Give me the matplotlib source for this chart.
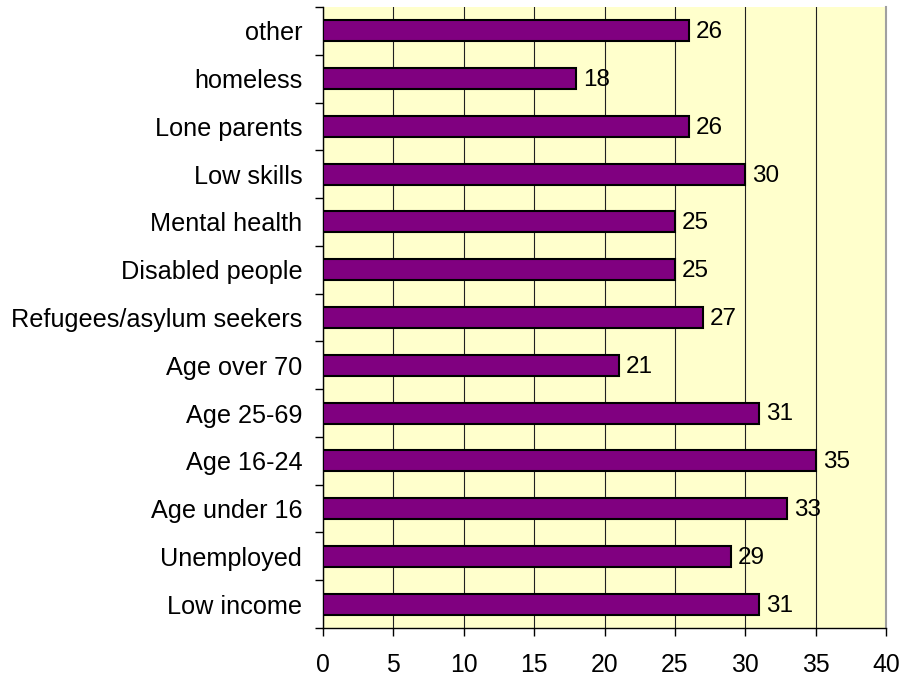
import matplotlib
matplotlib.use("Agg")
import matplotlib.pyplot as plt
import numpy as np

categories = ["Low income", "Unemployed", "Age under 16", "Age 16-24", "Age 25-69",
              "Age over 70", "Refugees/asylum seekers", "Disabled people",
              "Mental health", "Low skills", "Lone parents", "homeless", "other"]
values = [31, 29, 33, 35, 31, 21, 27, 25, 25, 30, 26, 18, 26]
xticks = [0, 5, 10, 15, 20, 25, 30, 35, 40]

plt.rcParams['font.family'] = ['Liberation Sans', 'DejaVu Sans']

fig = plt.figure(figsize=(9.14, 6.77), dpi=100)
ax = fig.add_axes([323/914, 1 - 628/677, (886 - 323)/914, (628 - 7)/677])
ax.set_facecolor('#FFFFCC')

y = np.arange(len(categories))
ax.barh(y, values, height=0.44, color='#800080', edgecolor='black', linewidth=1.5, zorder=3)

ax.set_xlim(0, 40)
ax.set_ylim(-0.5, len(categories) - 0.5)
ax.set_xticks(xticks)
ax.set_xticklabels([str(t) for t in xticks], fontsize=17.8)
ax.xaxis.grid(True, color='#202020', linewidth=0.8, zorder=1)
ax.set_axisbelow(True)

ax.set_yticks(y)
ax.set_yticklabels(categories, fontsize=18.2)
ax.tick_params(axis='y', which='major', length=0, pad=15)
ax.set_yticks(np.arange(-0.5, len(categories), 1), minor=True)
ax.tick_params(axis='y', which='minor', length=6, width=1, direction='out')
ax.tick_params(axis='x', length=6, width=1, direction='out', pad=12)

for yi, v in zip(y, values):
    ax.text(v + 0.5, yi - 0.03, str(v), va='center', ha='left', fontsize=17.5, zorder=4)

ax.spines['top'].set_visible(False)
ax.spines['right'].set_color('#A0A0A0')
ax.spines['right'].set_linewidth(1.5)
ax.spines['left'].set_linewidth(1)
ax.spines['bottom'].set_linewidth(1)

fig.savefig('out.png', dpi=100)
